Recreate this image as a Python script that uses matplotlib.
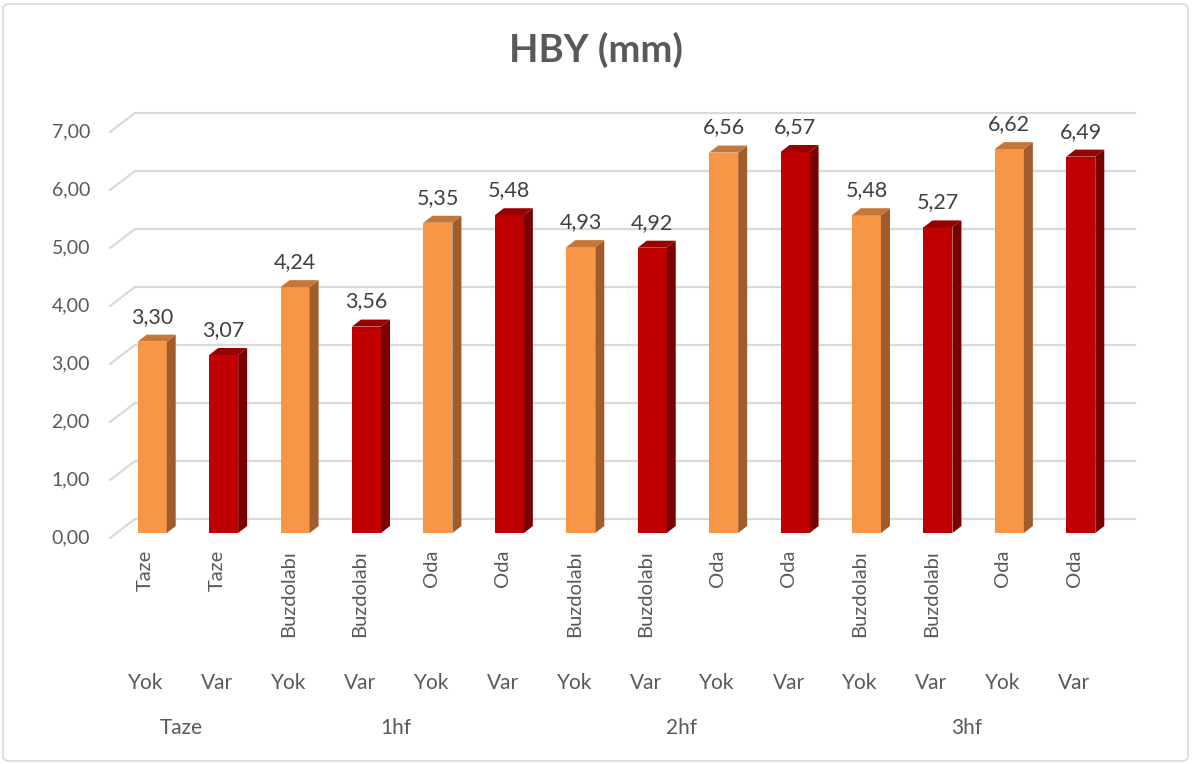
import matplotlib.pyplot as plt
from matplotlib.patches import Polygon, Rectangle, FancyBboxPatch
import numpy as np

plt.rcParams['font.family'] = ['Lato', 'DejaVu Sans']

# veriler
depo = ['Taze', 'Taze', 'Buzdolabı', 'Buzdolabı', 'Oda', 'Oda',
        'Buzdolabı', 'Buzdolabı', 'Oda', 'Oda',
        'Buzdolabı', 'Buzdolabı', 'Oda', 'Oda']
kaplama = ['Yok', 'Var'] * 7
gruplar = ['Taze', '1hf', '2hf', '3hf']
grup_boyu = [2, 4, 4, 4]
hby = [3.30, 3.07, 4.24, 3.56, 5.35, 5.48, 4.93, 4.92,
       6.56, 6.57, 5.48, 5.27, 6.62, 6.49]
yticks = [0, 1, 2, 3, 4, 5, 6, 7]

renk_on = {'Yok': '#F79646', 'Var': '#C00000'}
renk_yan = {'Yok': '#A05C2A', 'Var': '#7A0000'}
renk_ust = {'Yok': '#C57738', 'Var': '#990000'}
gri = '#595959'

W, H = 1192, 764
fig = plt.figure(figsize=(W / 100, H / 100), dpi=100)
ax = fig.add_axes([110 / W, (H - 538) / H, 1000 / W, 406 / H])
n = len(hby)
ax.set_xlim(0, n)
ax.set_ylim(0, 7)
ax.axis('off')

# piksel -> veri birimi
px_x = n / 1000
px_y = 7 / 406
dxd, dyd = 25 * px_x, 19 * px_y   # arka duvar derinligi
f = 0.26                           # cubuklarin derinlik konumu
sdx, sdy = 9 * px_x, 7 * px_y      # cubuk yan yuzu
bw = 29 * px_x
fs = 14

# izgara cizgileri
for v in yticks:
    ax.plot([0, dxd, n + dxd], [v, v + dyd, v + dyd], color='#D9D9D9',
            lw=1.6, clip_on=False, zorder=1)
    ax.text(-20 * px_x, v, f'{v:.2f}'.replace('.', ','), ha='right', va='center',
            fontsize=fs, color=gri)

# cubuklar
for i, (v, k) in enumerate(zip(hby, kaplama)):
    x0 = i + 0.5 - bw / 2 + f * dxd
    x1 = x0 + bw
    y0 = f * dyd
    y1 = v + f * dyd
    ax.add_patch(Rectangle((x0, y0), bw, v, facecolor=renk_on[k], edgecolor='none', zorder=3))
    ax.add_patch(Polygon([(x1, y0), (x1 + sdx, y0 + sdy), (x1 + sdx, y1 + sdy), (x1, y1)],
                         facecolor=renk_yan[k], edgecolor='none', zorder=3))
    ax.add_patch(Polygon([(x0, y1), (x1, y1), (x1 + sdx, y1 + sdy), (x0 + sdx, y1 + sdy)],
                         facecolor=renk_ust[k], edgecolor='none', zorder=3))
    ax.text((x0 + x1) / 2, y1 + 25 * px_y, f'{v:.2f}'.replace('.', ','),
            ha='center', va='center', fontsize=15.5, color='#404040', zorder=4)

# eksen etiketleri
for i in range(n):
    ax.text(i + 0.5, -12 * px_y, depo[i], rotation=90, ha='center', va='top',
            fontsize=14.5, color=gri)
    ax.text(i + 0.5, -145 * px_y, kaplama[i], ha='center', va='center',
            fontsize=15, color=gri)
bas = 0
for g, b in zip(gruplar, grup_boyu):
    ax.text(bas + b / 2, -190 * px_y, g, ha='center', va='center',
            fontsize=15, color=gri)
    bas += b

fig.text(0.5, (H - 50) / H, 'HBY (mm)', ha='center', va='center',
         fontsize=27.5, fontweight='bold', color=gri)

fig.patches.append(FancyBboxPatch((3 / W, 3 / H), (W - 7) / W, (H - 7) / H,
                                  boxstyle='round,pad=0,rounding_size=0.006',
                                  transform=fig.transFigure, facecolor='none',
                                  edgecolor='#D9D9D9', lw=1.2))

fig.savefig('out.png', dpi=100)
